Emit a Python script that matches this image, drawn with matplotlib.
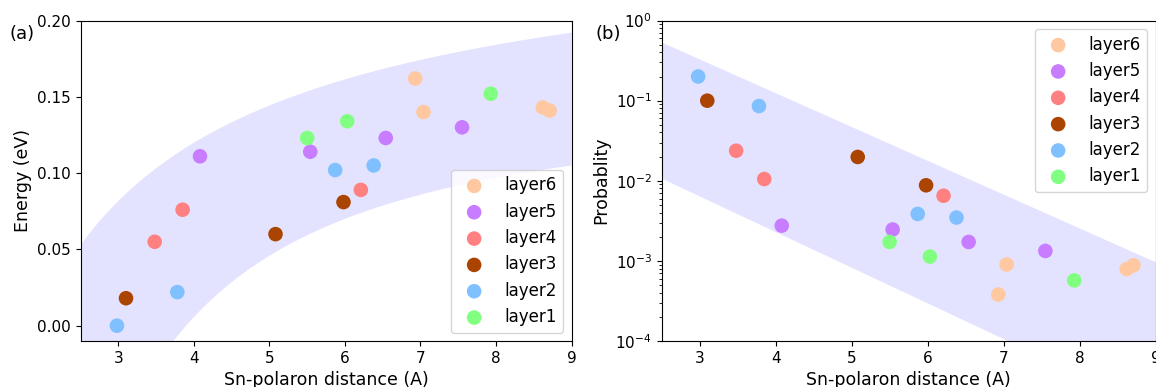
import numpy as np
import matplotlib
matplotlib.use("Agg")
import matplotlib.pyplot as plt

# Sn-polaron distance (A) per layer
layers = ["layer6", "layer5", "layer4", "layer3", "layer2", "layer1"]
colors = ["#ffc8a0", "#c87cff", "#ff8080", "#aa4400", "#80c0ff", "#80ff80"]

dist_l6 = [6.93, 7.04, 8.62, 8.71]
dist_l5 = [4.08, 5.54, 6.54, 7.55]
dist_l4 = [3.48, 3.85, 6.21]
dist_l3 = [3.10, 5.08, 5.98]
dist_l2 = [2.98, 3.78, 5.87, 6.38]
dist_l1 = [5.50, 6.03, 7.93]

# energies (eV)
energy_l6 = [0.162, 0.140, 0.143, 0.141]
energy_l5 = [0.111, 0.114, 0.123, 0.130]
energy_l4 = [0.055, 0.076, 0.089]
energy_l3 = [0.018, 0.060, 0.081]
energy_l2 = [0.000, 0.022, 0.102, 0.105]
energy_l1 = [0.123, 0.134, 0.152]

# probabilities
prob_l6 = [0.00038, 0.00090, 0.00079, 0.00088]
prob_l5 = [0.00275, 0.00246, 0.00172, 0.00133]
prob_l4 = [0.0237, 0.0105, 0.0065]
prob_l3 = [0.0998, 0.0198, 0.00877]
prob_l2 = [0.200, 0.0855, 0.00385, 0.00347]
prob_l1 = [0.00172, 0.00113, 0.00057]

dists = [dist_l6, dist_l5, dist_l4, dist_l3, dist_l2, dist_l1]
energies = [energy_l6, energy_l5, energy_l4, energy_l3, energy_l2, energy_l1]
probs = [prob_l6, prob_l5, prob_l4, prob_l3, prob_l2, prob_l1]

fig = plt.figure(figsize=(11.56, 3.87), dpi=100)
ax1 = fig.add_axes([0.0698, 0.119, 0.4246, 0.828])
ax2 = fig.add_axes([0.5724, 0.119, 0.4272, 0.828])

band_col = (0.0, 0.0, 1.0)
xx = np.linspace(2.5, 9.0, 300)

# (a) guide band
upper_a = 0.2782 - 0.4477 * xx ** -0.75
lower_a = 0.1468 - 1.129 * xx ** -1.5
ax1.fill_between(xx, lower_a, upper_a, color=band_col, alpha=0.11, lw=0, zorder=0)

# (b) guide band (straight on log scale)
upper_b = 10 ** (-0.27 - 0.422 * (xx - 2.5))
lower_b = 10 ** (-1.97 - 0.445 * (xx - 2.5))
ax2.fill_between(xx, lower_b, upper_b, color=band_col, alpha=0.11, lw=0, zorder=0)

for name, c, d, e, p in zip(layers, colors, dists, energies, probs):
    ax1.scatter(d, e, s=110, color=c, edgecolors="none", label=name, zorder=3)
    ax2.scatter(d, p, s=110, color=c, edgecolors="none", label=name, zorder=3)

ax1.set_xlim(2.5, 9)
ax1.set_ylim(-0.01, 0.2)
ax1.set_yticks([0.0, 0.05, 0.10, 0.15, 0.20])
ax1.yaxis.set_major_formatter(matplotlib.ticker.FormatStrFormatter("%.2f"))
ax1.set_xlabel("Sn-polaron distance (A)", fontsize=12.5, labelpad=4)
ax1.set_ylabel("Energy (eV)", fontsize=12.5)
ax1.legend(loc="lower right", fontsize=12)

ax2.set_yscale("log")
ax2.set_xlim(2.5, 9)
ax2.set_ylim(1e-4, 1)
ax2.set_xlabel("Sn-polaron distance (A)", fontsize=12.5, labelpad=4)
ax2.set_ylabel("Probablity", fontsize=12.5)
ax2.legend(loc="upper right", fontsize=12)

for ax in (ax1, ax2):
    ax.set_xticks([3, 4, 5, 6, 7, 8, 9])
    ax.tick_params(labelsize=11)

fig.text(0.008, 0.9, "(a)", fontsize=13)
fig.text(0.515, 0.9, "(b)", fontsize=13)

fig.savefig("out.png", dpi=100)
